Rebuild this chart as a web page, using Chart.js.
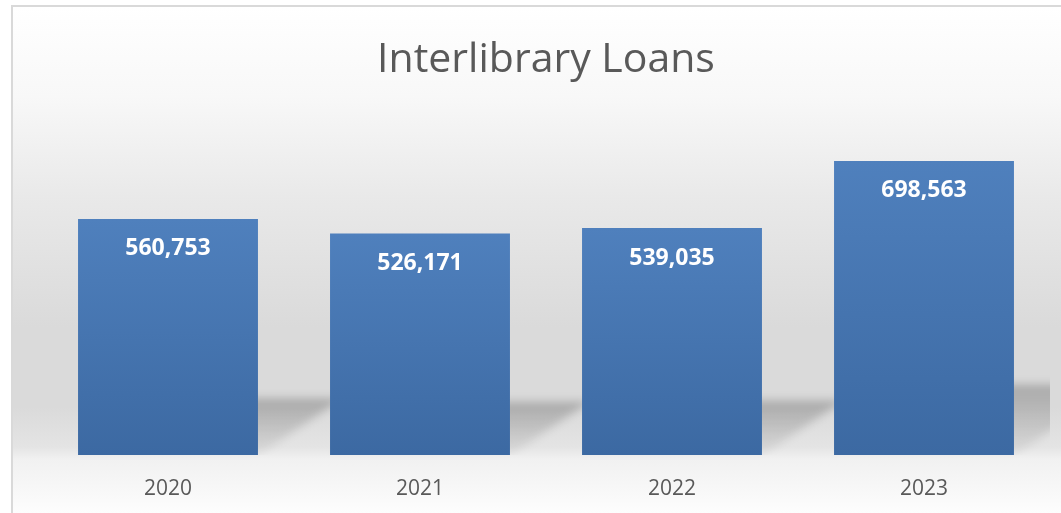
<!DOCTYPE html>
<html>
<head>
<meta charset="utf-8">
<script src="https://cdn.jsdelivr.net/npm/chart.js@4"></script>
<style>
  html, body { margin: 0; padding: 0; background: #fff; overflow: hidden; }
  #frame {
    position: absolute; left: 11px; top: 5px; width: 1100px; height: 600px;
    border: 2px solid #d9d9d9;
    background: linear-gradient(to bottom, #ffffff 0px, #f8f8f8 90px, #e9e9e9 190px,
      #dadada 320px, #dadada 400px, #e4e4e4 440px, #f1f1f1 452px, #f7f7f7 480px, #ffffff 515px);
  }
  #wrap { position: absolute; left: 0; top: 0; width: 1061px; height: 513px; }
</style>
</head>
<body>
<div id="frame"></div>
<div id="wrap"><canvas id="myChart"></canvas></div>
<script>
  const years = ['2020', '2021', '2022', '2023']
  const loans = [560753, 526171, 539035, 698563]

  // diagonal floor shadows behind each bar
  const barShadows = {
    id: 'barShadows',
    beforeDatasetsDraw(chart) {
      const ctx = chart.ctx
      const area = chart.chartArea
      const meta = chart.getDatasetMeta(0)
      ctx.save()
      ctx.beginPath()
      ctx.rect(area.left, area.top, area.right - area.left, area.bottom - area.top)
      ctx.clip()
      ctx.filter = 'blur(4px)'
      meta.data.forEach((bar) => {
        const h = bar.base - bar.y
        const dy = h * 0.24
        const dx = dy * 1.5
        const xl = bar.x - bar.width / 2
        const xr = bar.x + bar.width / 2
        const g = ctx.createLinearGradient(0, bar.base - dy, 0, bar.base)
        g.addColorStop(0, 'rgba(0,0,0,0.22)')
        g.addColorStop(1, 'rgba(0,0,0,0.04)')
        ctx.fillStyle = g
        ctx.beginPath()
        ctx.moveTo(xl, bar.base)
        ctx.lineTo(xr, bar.base)
        ctx.lineTo(xr + dx, bar.base - dy)
        ctx.lineTo(xl + dx, bar.base - dy)
        ctx.closePath()
        ctx.fill()
      })
      ctx.restore()
    }
  }

  // white value labels inside the top of each bar
  const valueLabels = {
    id: 'valueLabels',
    afterDatasetsDraw(chart) {
      const ctx = chart.ctx
      const meta = chart.getDatasetMeta(0)
      ctx.save()
      ctx.fillStyle = '#ffffff'
      ctx.font = 'bold 23px "Open Sans"'
      ctx.textAlign = 'center'
      ctx.textBaseline = 'middle'
      meta.data.forEach((bar, i) => {
        ctx.fillText(loans[i].toLocaleString('en-US'), bar.x, bar.y + 30)
      })
      ctx.restore()
    }
  }

  const ctx = document.getElementById('myChart')
  new Chart(ctx, {
    type: 'bar',
    data: {
      labels: years,
      datasets: [{
        data: loans,
        backgroundColor: (c) => {
          const chart = c.chart
          if (!chart.chartArea) return '#4a79b4'
          const top = chart.scales.y.getPixelForValue(c.raw)
          const bottom = chart.scales.y.getPixelForValue(0)
          const g = chart.ctx.createLinearGradient(0, top, 0, bottom)
          g.addColorStop(0, '#4f80bd')
          g.addColorStop(1, '#3c69a2')
          return g
        },
        borderWidth: 0,
        categoryPercentage: 1,
        barPercentage: 0.714
      }]
    },
    options: {
      responsive: true,
      maintainAspectRatio: false,
      animation: false,
      layout: { padding: { left: 42, right: 11, top: 0, bottom: 13 } },
      plugins: {
        legend: { display: false },
        tooltip: { enabled: false },
        title: {
          display: true,
          text: 'Interlibrary Loans',
          color: '#595959',
          font: { family: 'Open Sans', size: 41, weight: 'normal' },
          padding: { top: 36, bottom: 33 }
        }
      },
      scales: {
        x: {
          grid: { display: false },
          border: { display: false },
          ticks: {
            color: '#595959',
            padding: 13,
            font: { family: 'Open Sans', size: 21 }
          },
          afterFit: (scale) => { scale.height = 45 }
        },
        y: {
          display: false,
          min: 0,
          max: 800000
        }
      }
    },
    plugins: [barShadows, valueLabels]
  })
</script>
</body>
</html>
